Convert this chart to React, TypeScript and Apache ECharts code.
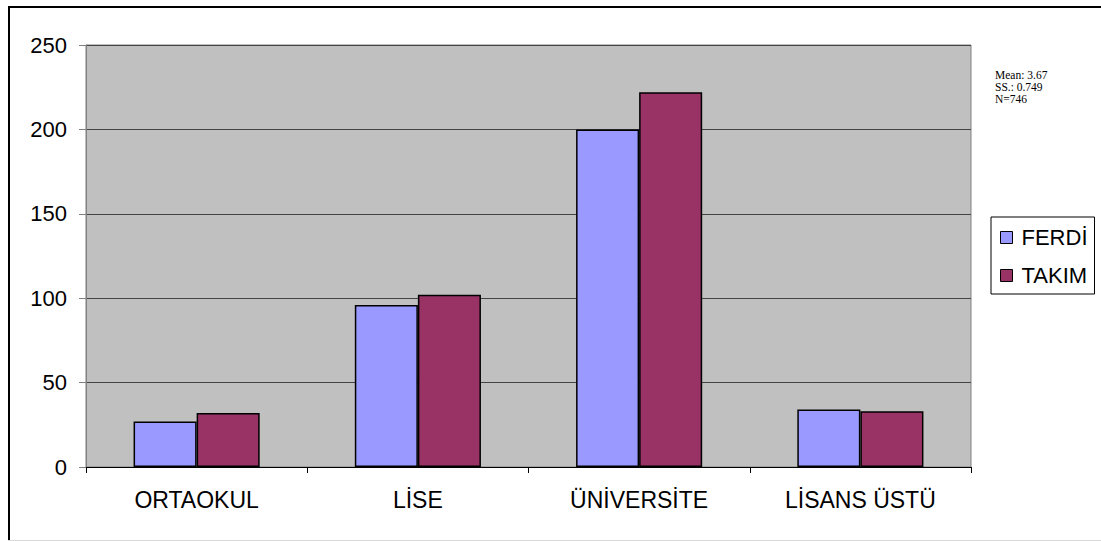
import React, { useEffect, useRef } from "react";
import * as echarts from "echarts";

const categories = ["ORTAOKUL", "LİSE", "ÜNİVERSİTE", "LİSANS ÜSTÜ"];
const ferdi = [27, 96, 200, 34];
const takim = [32, 102, 222, 33];
const seriesNames = ["FERDİ", "TAKIM"];
const statsLines = ["Mean: 3.67", "SS.: 0.749", "N=746"];

export default function App() {
  const ref = useRef<HTMLDivElement>(null);
  useEffect(() => {
    if (!ref.current) return;
    const chart = echarts.init(ref.current, undefined, { renderer: "svg" });
    const font = "'Liberation Sans', Arial, sans-serif";
    chart.setOption({
      animation: false,
      backgroundColor: "#ffffff",
      grid: {
        left: 86,
        top: 45,
        right: 130,
        bottom: 74,
        show: true,
        backgroundColor: "#C0C0C0",
        borderColor: "#808080",
        borderWidth: 1,
      },
      legend: {
        orient: "vertical",
        left: 991,
        top: 217,
        padding: [9.5, 7, 7.5, 9],
        itemGap: 16,
        itemWidth: 12,
        itemHeight: 12,
        backgroundColor: "#ffffff",
        borderColor: "#000000",
        borderWidth: 1,
        borderRadius: 0,
        icon: "rect",
        textStyle: { fontFamily: font, fontSize: 22, color: "#000", padding: [0, 0, 0, 4] },
        itemStyle: { borderColor: "#000", borderWidth: 1 },
        data: seriesNames,
      },
      xAxis: {
        type: "category",
        data: categories,
        boundaryGap: true,
        axisLine: { lineStyle: { color: "#000", width: 1 } },
        axisTick: { show: true, alignWithLabel: false, length: 6, lineStyle: { color: "#000" } },
        axisLabel: { fontFamily: font, fontSize: 23, color: "#000", margin: 21 },
      },
      yAxis: {
        type: "value",
        min: 0,
        max: 250,
        interval: 50,
        axisLine: { show: true, lineStyle: { color: "#808080", width: 1 } },
        axisTick: { show: true, length: 7, inside: false, lineStyle: { color: "#808080" } },
        axisLabel: { fontFamily: font, fontSize: 22, color: "#000", margin: 19 },
        splitLine: { show: true, lineStyle: { color: "#444", width: 1 } },
      },
      series: [
        {
          name: seriesNames[0],
          type: "bar",
          data: ferdi,
          barGap: "0%",
          barCategoryGap: "43%",
          itemStyle: { color: "#9999FF", borderColor: "#000", borderWidth: 1.5 },
        },
        {
          name: seriesNames[1],
          type: "bar",
          data: takim,
          barGap: "0%",
          barCategoryGap: "43%",
          itemStyle: { color: "#993366", borderColor: "#000", borderWidth: 1.5 },
        },
      ],
      graphic: [
        {
          type: "line",
          shape: { x1: 9, y1: 6, x2: 9, y2: 541 },
          style: { stroke: "#000", lineWidth: 2 },
        },
        {
          type: "line",
          shape: { x1: 8, y1: 7, x2: 1101, y2: 7 },
          style: { stroke: "#000", lineWidth: 2 },
        },
        {
          type: "line",
          shape: { x1: 8, y1: 540.5, x2: 1101, y2: 540.5 },
          style: { stroke: "#d8d8d8", lineWidth: 1 },
        },
        ...statsLines.map((t, i) => ({
          type: "text",
          x: 995,
          y: 75 + i * 12,
          style: {
            text: t,
            fontFamily: "'Liberation Serif', 'Times New Roman', serif",
            fontSize: 11.5,
            fill: "#000",
            align: "left",
            verticalAlign: "middle",
          },
        })),
      ],
    });
    return () => chart.dispose();
  }, []);
  return (
    <div
      ref={ref}
      style={{ position: "fixed", left: 0, top: 0, width: 1101, height: 541 }}
    />
  );
}
